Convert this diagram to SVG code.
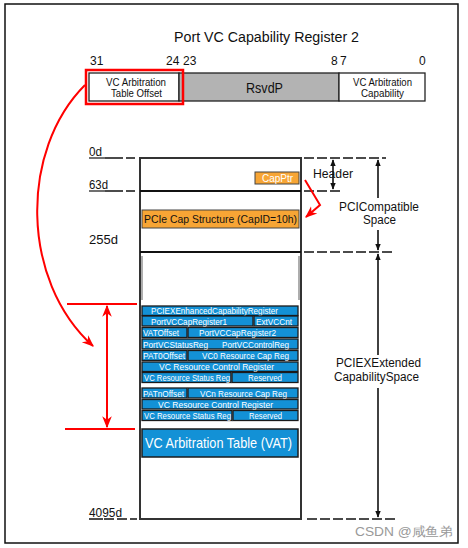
<svg xmlns="http://www.w3.org/2000/svg" width="468" height="548" viewBox="0 0 468 548">
<defs>
<style>
text{font-family:"Liberation Sans",Arial,sans-serif;}
.bit{font-size:12px;fill:#111;}
.lbl{font-size:12.5px;fill:#111;}
.cell{fill:#1391D6;stroke:#1b1b1b;stroke-width:1.3;}
.ct{font-size:9.5px;fill:#fff;}
.dash{stroke:#111;stroke-width:1.6;stroke-dasharray:10,3;fill:none;}
.ldash{stroke:#111;stroke-width:1.6;stroke-dasharray:18,3,9,3;fill:none;}
.blk{stroke:#111;stroke-width:1.6;fill:none;}
.red{stroke:#f00;stroke-width:2;fill:none;}
</style>
<marker id="ab" viewBox="0 0 10 10" refX="9" refY="5" markerWidth="7" markerHeight="7" orient="auto-start-reverse" markerUnits="userSpaceOnUse"><path d="M0,1 L10,5 L0,9 z" fill="#111"/></marker>
<marker id="ar" viewBox="0 0 10 10" refX="9" refY="5" markerWidth="12" markerHeight="12" orient="auto-start-reverse" markerUnits="userSpaceOnUse"><path d="M0,1 L10,5 L0,9 L3,5 z" fill="#f00"/></marker>
</defs>
<rect x="5" y="4" width="453" height="539" fill="#fff" stroke="#111" stroke-width="1.5"/>

<g id="title"><text x="174" y="42" font-size="15.5" textLength="185" lengthAdjust="spacingAndGlyphs" fill="#111">Port VC Capability Register 2</text></g>

<g id="register">
<text class="bit" x="90" y="65">31</text>
<text class="bit" x="166" y="65">24</text>
<text class="bit" x="183" y="65">23</text>
<text class="bit" x="331" y="65">8</text>
<text class="bit" x="340" y="65">7</text>
<text class="bit" x="419" y="65">0</text>
<rect x="89" y="73" width="90" height="28" fill="#fff" stroke="#222" stroke-width="1.3"/>
<rect x="179" y="73" width="160" height="28" fill="#b3b3b3" stroke="#222" stroke-width="1.3"/>
<rect x="339" y="73" width="86" height="28" fill="#fff" stroke="#222" stroke-width="1.3"/>
<rect x="86" y="70" width="97" height="34" fill="none" stroke="#f00" stroke-width="2.5"/>
<text x="106" y="86" font-size="11" textLength="60" lengthAdjust="spacingAndGlyphs" fill="#111">VC Arbitration</text>
<text x="111" y="97" font-size="11" textLength="51" lengthAdjust="spacingAndGlyphs" fill="#111">Table Offset</text>
<text x="246" y="93" font-size="15" textLength="37" lengthAdjust="spacingAndGlyphs" fill="#111">RsvdP</text>
<text x="353" y="86" font-size="11" textLength="59" lengthAdjust="spacingAndGlyphs" fill="#111">VC Arbitration</text>
<text x="361" y="97" font-size="11" textLength="43" lengthAdjust="spacingAndGlyphs" fill="#111">Capability</text>
</g>

<g id="memmap">
<rect x="140" y="158" width="161" height="361" fill="#fff" stroke="#333" stroke-width="2"/>
<line x1="140" y1="191" x2="301" y2="191" stroke="#111" stroke-width="2"/>
<line x1="140" y1="252" x2="301" y2="252" stroke="#111" stroke-width="2"/>
<line x1="142" y1="256" x2="142" y2="300" stroke="#777" stroke-width="1.2"/>
<line x1="299" y1="256" x2="299" y2="300" stroke="#777" stroke-width="1.2"/>
</g>

<g id="offsets">
<text class="lbl" x="89" y="156" textLength="13" lengthAdjust="spacingAndGlyphs">0d</text>
<line x1="89" y1="158" x2="105" y2="158" stroke="#111" stroke-width="1.2"/>
<line class="ldash" x1="105" y1="158" x2="137" y2="158"/>
<text class="lbl" x="89" y="189" textLength="19" lengthAdjust="spacingAndGlyphs">63d</text>
<line x1="89" y1="191" x2="105" y2="191" stroke="#111" stroke-width="1.2"/>
<line class="ldash" x1="105" y1="191" x2="137" y2="191"/>
<text class="lbl" x="89" y="244" textLength="29" lengthAdjust="spacingAndGlyphs">255d</text>
<text class="lbl" x="89" y="517" textLength="33" lengthAdjust="spacingAndGlyphs">4095d</text>
<line x1="89" y1="519" x2="103" y2="519" stroke="#111" stroke-width="1.5"/>
<line class="dash" x1="104" y1="519" x2="137" y2="519"/>
</g>

<g id="capptr">
<rect x="255" y="172" width="44" height="12" fill="#F7A535" stroke="#444" stroke-width="1"/>
<text x="262" y="181.5" font-size="10" textLength="31" lengthAdjust="spacingAndGlyphs" fill="#fff">CapPtr</text>
</g>
<g id="pciecap">
<rect x="142" y="210" width="157" height="18" fill="#F7A535" stroke="#444" stroke-width="1"/>
<text x="144" y="223" font-size="11.5" textLength="153" lengthAdjust="spacingAndGlyphs" fill="#111">PCIe Cap Structure (CapID=10h)</text>
</g>

<g id="vcblock">
<rect class="cell" x="142" y="306" width="156" height="9.5"/>
<text class="ct" x="151" y="314" textLength="127" lengthAdjust="spacingAndGlyphs">PCIEXEnhancedCapabilityRegister</text>
<rect class="cell" x="142" y="316" width="111" height="10"/>
<text class="ct" x="151" y="324.5" textLength="76" lengthAdjust="spacingAndGlyphs">PortVCCapRegister1</text>
<rect class="cell" x="254" y="316" width="44" height="10"/>
<text class="ct" x="256" y="324.5" textLength="36" lengthAdjust="spacingAndGlyphs">ExtVCCnt</text>
<rect class="cell" x="142" y="327.5" width="45" height="10"/>
<text class="ct" x="143" y="336" textLength="36" lengthAdjust="spacingAndGlyphs">VATOffset</text>
<rect class="cell" x="188" y="327.5" width="110" height="10"/>
<text class="ct" x="199" y="336" textLength="77" lengthAdjust="spacingAndGlyphs">PortVCCapRegister2</text>
<rect class="cell" x="142" y="339" width="156" height="10"/>
<text class="ct" x="143" y="347.5" textLength="65" lengthAdjust="spacingAndGlyphs">PortVCStatusReg</text>
<text class="ct" x="222" y="347.5" textLength="67" lengthAdjust="spacingAndGlyphs">PortVCControlReg</text>
<rect class="cell" x="142" y="350.5" width="45" height="10"/>
<text class="ct" x="143" y="359" textLength="42" lengthAdjust="spacingAndGlyphs">PAT0Offset</text>
<rect class="cell" x="188" y="350.5" width="110" height="10"/>
<text class="ct" x="202" y="359" textLength="87" lengthAdjust="spacingAndGlyphs">VC0 Resource Cap Reg</text>
<rect class="cell" x="142" y="362" width="156" height="9.5"/>
<text class="ct" x="159" y="370" textLength="115" lengthAdjust="spacingAndGlyphs">VC Resource Control Register</text>
<rect class="cell" x="142" y="372.5" width="89" height="10"/>
<text class="ct" x="144" y="381" textLength="86" lengthAdjust="spacingAndGlyphs">VC Resource Status Reg</text>
<rect class="cell" x="232" y="372.5" width="66" height="10"/>
<text class="ct" x="248" y="381" textLength="34" lengthAdjust="spacingAndGlyphs">Reserved</text>
<rect class="cell" x="142" y="388" width="45" height="10"/>
<text class="ct" x="143" y="396.5" textLength="41" lengthAdjust="spacingAndGlyphs">PATnOffset</text>
<rect class="cell" x="188" y="388" width="110" height="10"/>
<text class="ct" x="200" y="396.5" textLength="87" lengthAdjust="spacingAndGlyphs">VCn Resource Cap Reg</text>
<rect class="cell" x="142" y="399.5" width="156" height="9.5"/>
<text class="ct" x="158" y="407.5" textLength="115" lengthAdjust="spacingAndGlyphs">VC Resource Control Register</text>
<rect class="cell" x="142" y="410.5" width="90" height="10"/>
<text class="ct" x="144" y="419" textLength="87" lengthAdjust="spacingAndGlyphs">VC Resource Status Reg</text>
<rect class="cell" x="233" y="410.5" width="65" height="10"/>
<text class="ct" x="249" y="419" textLength="33" lengthAdjust="spacingAndGlyphs">Reserved</text>
</g>
<g id="vat">
<rect x="142" y="429" width="156" height="28" fill="#1391D6" stroke="#1b1b1b" stroke-width="1.5"/>
<text x="145" y="448" font-size="15" textLength="147" lengthAdjust="spacingAndGlyphs" fill="#fff">VC Arbitration Table (VAT)</text>
</g>

<g id="labels">
<text class="lbl" x="313" y="178" textLength="40" lengthAdjust="spacingAndGlyphs">Header</text>
<text class="lbl" x="339" y="211" textLength="80" lengthAdjust="spacingAndGlyphs">PCICompatible</text>
<text class="lbl" x="363" y="224" textLength="33" lengthAdjust="spacingAndGlyphs">Space</text>
<text class="lbl" x="336" y="367" textLength="85" lengthAdjust="spacingAndGlyphs">PCIEXExtended</text>
<text class="lbl" x="334" y="381" textLength="85" lengthAdjust="spacingAndGlyphs">CapabilitySpace</text>
</g>

<g id="connectors">
<line class="dash" x1="304" y1="158" x2="386" y2="158"/>
<line class="dash" x1="304" y1="191" x2="340" y2="191"/>
<line class="dash" x1="304" y1="252" x2="395" y2="252"/>
<line class="dash" x1="307" y1="519" x2="395" y2="519"/>
<line class="blk" x1="333" y1="160" x2="333" y2="189" marker-start="url(#ab)" marker-end="url(#ab)"/>
<line class="blk" x1="378" y1="160" x2="378" y2="198" marker-start="url(#ab)"/>
<line class="blk" x1="378" y1="230" x2="378" y2="250" marker-end="url(#ab)"/>
<line class="blk" x1="378" y1="254" x2="378" y2="355" marker-start="url(#ab)"/>
<line class="blk" x1="378" y1="388" x2="378" y2="517" marker-end="url(#ab)"/>
<polyline class="red" points="305,180 320,205 306,217" stroke-width="1.6" marker-end="url(#ar)"/>
<path class="red" d="M85,85 C20,150 20,280 93,346" marker-end="url(#ar)"/>
<line class="red" x1="67" y1="304" x2="137" y2="304"/>
<line class="red" x1="65" y1="429" x2="135" y2="429"/>
<line class="red" x1="107" y1="306" x2="107" y2="427" marker-start="url(#ar)" marker-end="url(#ar)"/>
</g>

<g id="watermark"><text x="355" y="536" font-size="13" textLength="98" lengthAdjust="spacingAndGlyphs" fill="#999" font-family="'Liberation Sans','Noto Sans CJK SC',sans-serif">CSDN @咸鱼弟</text></g>
</svg>
